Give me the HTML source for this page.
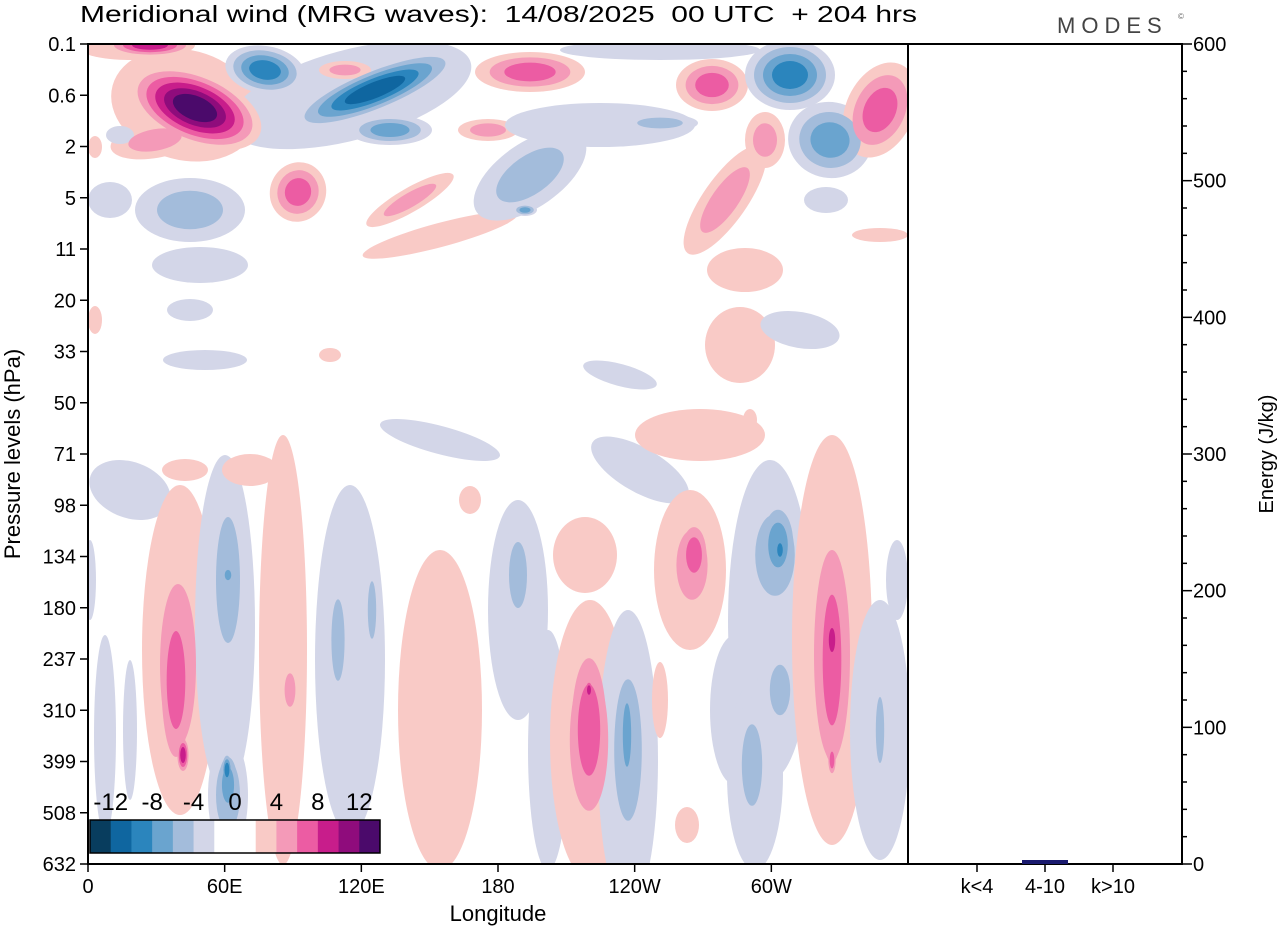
<!DOCTYPE html>
<html><head><meta charset="utf-8"><style>
body{margin:0;background:#fff;}
svg text{font-family:"Liberation Sans",Arial,sans-serif;fill:#000;white-space:pre;}
</style></head><body>
<svg id="s" width="1280" height="930" viewBox="0 0 1280 930" xmlns="http://www.w3.org/2000/svg">
<defs><clipPath id="c"><rect x="88" y="44" width="820" height="820"/></clipPath></defs>
<rect width="1280" height="930" fill="#fff"/>
<g id="blobs" clip-path="url(#c)"></g>
<g id="cb"></g>
<g id="ax" stroke="#000" stroke-width="2" fill="none">
<rect x="88" y="44" width="1094" height="820"/>
<line x1="908" y1="44" x2="908" y2="864"/>
</g>
<g id="ticks" stroke="#000" stroke-width="1.5"></g>
<g id="lab" font-size="20"></g>
<text x="80" y="22" font-size="23" textLength="837" lengthAdjust="spacingAndGlyphs" xml:space="preserve">Meridional wind (MRG waves):  14/08/2025  00 UTC  + 204 hrs</text>
<text x="1057" y="33" font-size="22" letter-spacing="6" style="fill:#444">MODES</text>
<text x="1178" y="19" font-size="8" style="fill:#666">©</text>
<text x="498" y="921" font-size="22" text-anchor="middle">Longitude</text>
<text transform="translate(20,454) rotate(-90)" font-size="22" text-anchor="middle">Pressure levels (hPa)</text>
<text transform="translate(1273,454) rotate(-90)" font-size="20" text-anchor="middle">Energy (J/kg)</text>
<rect x="1022" y="860" width="46" height="4" fill="#1a1a6e"/>
</svg>
<script>
const S='http://www.w3.org/2000/svg';
const P=['#f9cac6','#f49ab8','#ec5ca3','#c81d8b','#8f0c7c','#4b0a6b'];
const N=['#d3d6e8','#a3bcdb','#6aa4cf','#2b85bd','#0f66a0','#083d5e'];
function el(t,a,p){const e=document.createElementNS(S,t);for(const k in a)e.setAttribute(k,a[k]);p.appendChild(e);return e;}
const g=document.getElementById('blobs');
const B=[
[185,105,75,55,15,1,1],[130,45,55,15,0,1,1],[150,45,45,12,0,4,1],
[350,95,125,45,-15,1,-1],[265,70,40,24,10,4,-1],[375,90,90,22,-22,5,-1],[390,130,42,15,0,3,-1],
[195,108,70,36,22,6,1],[155,140,45,18,-10,2,1],
[345,70,26,9,0,2,1],[298,192,28,30,20,3,1],
[190,210,55,32,0,2,-1],[110,200,22,18,0,1,-1],[120,135,14,9,0,1,-1],
[488,130,30,11,0,2,1],[410,200,50,12,-30,2,1],[440,235,80,12,-15,1,1],
[530,72,55,20,0,3,1],[660,50,100,10,0,1,-1],
[530,175,65,32,-35,2,-1],[525,210,12,6,0,3,-1],[600,125,95,22,0,1,-1],[660,123,38,9,0,2,-1],
[712,85,36,26,0,3,1],[790,75,45,35,0,4,-1],[830,140,42,38,10,3,-1],[880,110,34,50,25,3,1],
[765,140,20,28,0,2,1],[725,200,65,22,-55,2,1],[745,270,38,22,0,1,1],[740,345,35,38,0,1,1],
[800,330,40,18,10,1,-1],[620,375,38,11,15,1,-1],[826,200,22,13,0,1,-1],[880,235,28,7,0,1,1],
[200,265,48,18,0,1,-1],[190,310,23,11,0,1,-1],[205,360,42,10,0,1,-1],[330,355,11,7,0,1,1],
[440,440,62,14,15,1,-1],[95,320,7,14,0,1,1],[95,147,7,11,0,1,1],
[130,490,42,28,20,1,-1],[185,470,23,11,0,1,1],
[180,650,38,165,0,1,1],[178,665,30,135,0,2,1],[176,680,20,105,0,3,1],[183,755,7,20,0,4,1],
[225,625,30,170,0,1,-1],[228,580,20,105,0,2,-1],[228,575,7,11,0,3,-1],[228,795,20,58,0,2,-1],[228,785,13,38,0,3,-1],[227,770,6,18,0,4,-1],
[283,650,24,215,0,1,1],[290,690,9,28,0,2,1],[250,470,28,16,0,1,1],
[350,660,35,175,0,1,-1],[338,640,11,68,0,2,-1],[372,610,7,48,0,2,-1],
[105,735,11,100,0,1,-1],[130,730,7,70,0,1,-1],[90,580,6,40,0,1,-1],
[440,710,42,160,0,1,1],[470,500,11,14,0,1,1],
[585,555,32,38,0,1,1],[518,610,30,110,0,1,-1],[518,575,15,55,0,2,-1],[548,750,20,120,0,1,-1],
[590,740,40,140,0,1,1],[589,740,32,118,0,2,1],[589,730,24,98,0,3,1],[589,690,5,12,0,4,1],
[628,760,30,150,0,1,-1],[628,750,23,118,0,2,-1],[627,735,9,68,0,3,-1],[660,700,8,38,0,1,1],
[640,470,55,22,30,1,-1],[700,435,65,26,0,1,1],
[690,570,36,80,0,1,1],[692,565,26,58,0,2,1],[694,555,17,38,0,3,1],
[770,620,42,160,0,1,-1],[775,555,33,68,0,2,-1],[778,545,21,48,0,3,-1],[780,550,7,17,0,4,-1],
[735,710,25,75,0,1,-1],[755,775,28,95,0,1,-1],[752,765,17,68,0,2,-1],[780,690,17,42,0,2,-1],
[832,640,40,205,0,1,1],[832,655,30,175,0,2,1],[832,660,20,140,0,3,1],[832,640,8,30,0,4,1],[832,760,5,18,0,3,1],
[880,730,30,130,0,1,-1],[880,730,7,55,0,2,-1],[897,580,11,40,0,1,-1],[687,825,12,18,0,1,1],[750,420,7,11,0,1,1]
];
for(let lvl=0;lvl<6;lvl++){
B.forEach(b=>{const[cx,cy,rx,ry,rot,L,s]=b;if(lvl>=L)return;const C=s>0?P:N;
 const f=(L-lvl)/L;const ff=lvl==0?1:0.2+0.8*f;
 el('ellipse',{cx,cy,rx:rx*ff,ry:ry*ff,transform:`rotate(${rot} ${cx} ${cy})`,fill:C[lvl]},g);});}
const cb=document.getElementById('cb');const cols=[N[5],N[4],N[3],N[2],N[1],N[0],'#fff','#fff',P[0],P[1],P[2],P[3],P[4],P[5]];
const w=290/14;cols.forEach((c,i)=>el('rect',{x:90+i*w,y:820,width:w+0.5,height:33,fill:c},cb));
el('rect',{x:90,y:820,width:290,height:33,fill:'none',stroke:'#000','stroke-width':1.5},cb);
const lab=document.getElementById('lab');
[-12,-8,-4,0,4,8,12].forEach((v,i)=>{const t=el('text',{x:90+(1+2*i)*w,y:810,'text-anchor':'middle','font-size':24},lab);t.textContent=v;});
const tk=document.getElementById('ticks');
['0.1','0.6','2','5','11','20','33','50','71','98','134','180','237','310','399','508','632'].forEach((v,i)=>{const y=44+i*820/16;
 el('line',{x1:80,y1:y,x2:88,y2:y},tk);const t=el('text',{x:76,y:y+7,'text-anchor':'end'},lab);t.textContent=v;});
['0','60E','120E','180','120W','60W'].forEach((v,i)=>{const x=88+i*820/6;el('line',{x1:x,y1:864,x2:x,y2:872},tk);
 const t=el('text',{x:x,y:893,'text-anchor':'middle'},lab);t.textContent=v;});
for(let v=0;v<=600;v+=20){const y=864-v*820/600;const maj=v%100==0;el('line',{x1:1182,y1:y,x2:maj?1192:1187,y2:y},tk);
 if(maj){const t=el('text',{x:1193,y:y+7},lab);t.textContent=v;}}
[['k<4',977],['4-10',1045],['k>10',1113]].forEach(a=>{el('line',{x1:a[1],y1:864,x2:a[1],y2:872},tk);const t=el('text',{x:a[1],y:893,'text-anchor':'middle'},lab);t.textContent=a[0];});
</script>
</body></html>
